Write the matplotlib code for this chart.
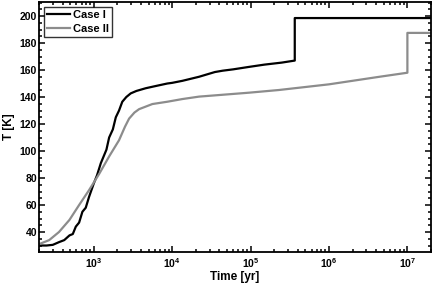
import matplotlib
matplotlib.use('Agg')
import matplotlib.pyplot as plt
from matplotlib import font_manager
from matplotlib.ticker import LogLocator, MultipleLocator, LogFormatterMathtext

bold_files = [f for f in font_manager.fontManager.ttflist
              if f.name == 'Liberation Sans' and f.weight in (700, 'bold')]
if bold_files:
    font_manager.fontManager.addfont(bold_files[0].fname)

plt.rcParams['font.family'] = ['Liberation Sans', 'DejaVu Sans']
plt.rcParams['font.weight'] = 'bold'
plt.rcParams['font.stretch'] = 'normal'
plt.rcParams['mathtext.fontset'] = 'custom'
plt.rcParams['mathtext.rm'] = 'Liberation Sans:bold'
plt.rcParams['mathtext.it'] = 'Liberation Sans:bold'
plt.rcParams['mathtext.bf'] = 'Liberation Sans:bold'

# Case I (black)
t1 = [200, 250, 300, 360, 420, 490, 540, 590, 650, 716, 790, 870, 1000, 1100,
      1230, 1450, 1570, 1750, 1910, 2100, 2310, 2600, 2960, 3500, 4590, 6000,
      8650, 10000, 13500, 22000, 35000, 44000, 60000, 95000, 150000, 250000,
      366000, 366000, 2e7]
T1 = [30, 30, 30.5, 32.5, 34, 37.5, 38.5, 44, 47, 55, 58, 66, 76, 82,
      91, 101, 110, 116, 125, 130, 136.5, 140, 142.7, 144.5, 146.5, 148,
      150, 150.5, 152, 155, 158.5, 159.5, 160.5, 162.3, 164, 165.5,
      167, 198.5, 198.5]

# Case II (grey)
t2 = [200, 270, 360, 490, 650, 870, 1170, 1570, 2100, 2500, 2820, 3300, 3780,
      5590, 8650, 13500, 22000, 95000, 230000, 1e6, 4.4e6, 1e7, 1e7, 2e7]
T2 = [31, 34, 40, 49, 60, 71, 83, 96, 108, 118, 124, 128.5, 131, 134.8,
      136.5, 138.5, 140.3, 143.2, 145.2, 149.4, 155, 158, 187.5, 187.5]

fig = plt.figure(figsize=(4.36, 2.84), dpi=100)
ax = fig.add_axes([0.0894, 0.1127, 0.8991, 0.8803])

ax.plot(t1, T1, color='black', lw=1.6, label='Case I')
ax.plot(t2, T2, color='#8c8c8c', lw=1.6, label='Case II')

ax.set_xscale('log')
ax.set_xlim(200, 2e7)
ax.set_ylim(25.2, 210.4)
ax.xaxis.set_major_locator(LogLocator(base=10, numticks=10))
ax.xaxis.set_minor_locator(LogLocator(base=10, subs=range(2, 10), numticks=20))
ax.xaxis.set_major_formatter(LogFormatterMathtext())
ax.yaxis.set_major_locator(MultipleLocator(20))
ax.yaxis.set_minor_locator(MultipleLocator(5))

ax.tick_params(which='both', direction='in', top=True, right=True,
               labelsize=7.5, width=1.1)
ax.tick_params(axis='x', which='both', pad=3)
ax.tick_params(axis='y', which='both', pad=1.5)
ax.tick_params(which='major', length=4)
ax.tick_params(which='minor', length=2)
for s in ax.spines.values():
    s.set_linewidth(1.3)

ax.set_xlabel('Time [yr]', fontsize=8.5, fontweight='bold', labelpad=1)
ax.set_ylabel('T [K]', fontsize=8.5, fontweight='bold', labelpad=3)

leg = ax.legend(loc='upper left', fontsize=8, frameon=True, fancybox=False,
                handlelength=2.0, borderpad=0.3, labelspacing=0.3,
                handletextpad=0.3, borderaxespad=0.45)
leg.get_frame().set_edgecolor('black')
leg.get_frame().set_linewidth(1.0)

fig.savefig('out.png', dpi=100)
